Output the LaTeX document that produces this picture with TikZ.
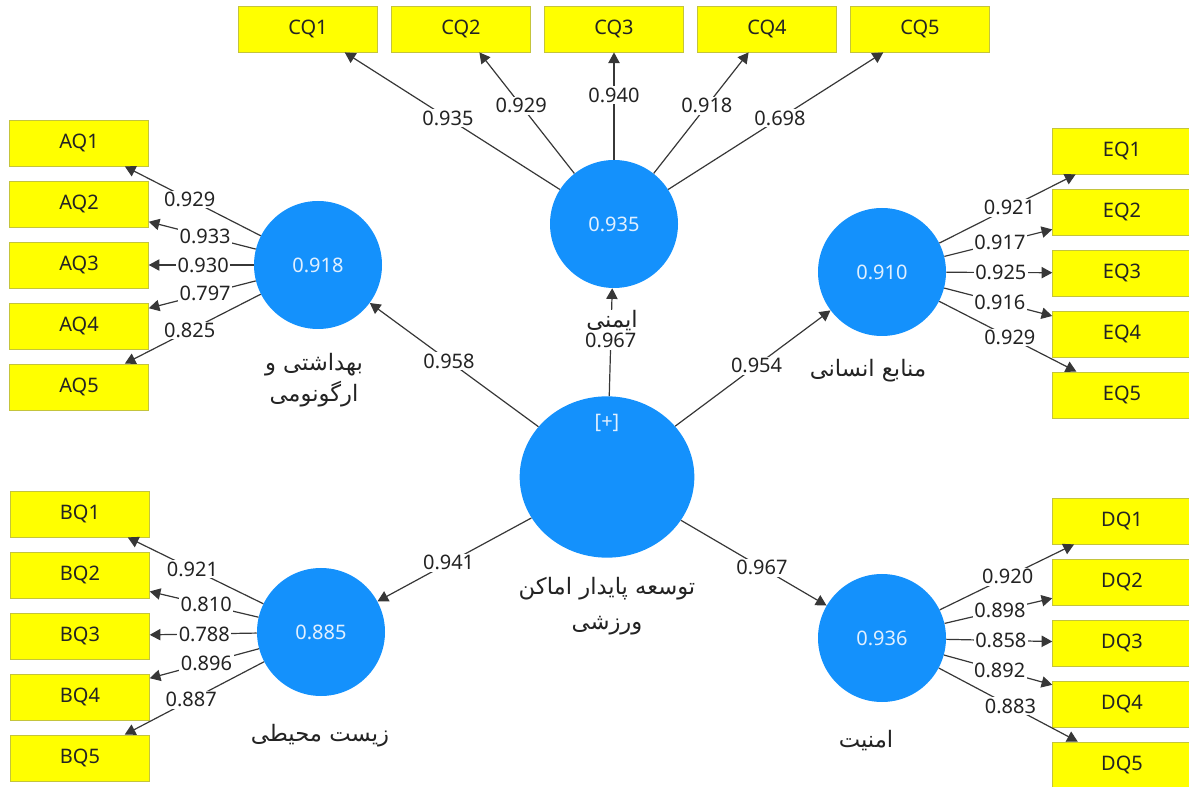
\documentclass[tikz,border=0pt]{standalone}
\usepackage{fontspec}
\setmainfont{Noto Sans}
\newfontfamily\fa[Script=Arabic]{DejaVu Sans}
\TeXXeTstate=1
\usetikzlibrary{arrows.meta,shapes.geometric}
\definecolor{lvblue}{RGB}{20,145,252}
\definecolor{indyel}{RGB}{255,255,0}
\definecolor{indbord}{RGB}{196,196,60}
\definecolor{lncol}{RGB}{55,55,55}
\definecolor{txcol}{RGB}{35,35,35}
\definecolor{lvtext}{RGB}{225,240,255}
\begin{document}
\begin{tikzpicture}[x=0.75pt,y=-0.75pt,
  lvar/.style={circle,fill=lvblue,minimum size=96pt,inner sep=0pt,text=lvtext,font=\fontsize{15}{18}\selectfont},
  cvar/.style={ellipse,fill=lvblue,minimum width=131pt,minimum height=121pt,inner sep=0pt},
  indbox/.style={rectangle,draw=indbord,fill=indyel,line width=0.6pt,minimum width=104pt,minimum height=34.5pt,inner sep=0pt,text=txcol,font=\fontsize{15}{18}\selectfont},
  arr/.style={draw=lncol,line width=0.9pt,-{Triangle[length=8pt,width=8.5pt]}},
  lbl/.style={fill=white,inner sep=1.2pt,text=txcol,font=\fontsize{15}{18}\selectfont},
  falbl/.style={fill=white,inner sep=1pt,text=txcol,font=\fa\fontsize{17}{23}\selectfont,align=center}
]
\useasboundingbox (0,0) rectangle (1189,787);

% latent variables
\node[lvar] (A) at (318,265) {0.918};
\node[lvar] (B) at (321,632) {0.885};
\node[lvar] (C) at (614,224) {0.935};
\node[lvar] (D) at (882,638) {0.936};
\node[lvar] (E) at (882,272) {0.910};
\node[cvar] (S) at (607,477) {};
\node[text=lvtext,font=\fontsize{15}{18}\selectfont] (plus) at (607,423) {[+]};

% indicators
\foreach \i/\y in {1/143,2/204,3/265,4/326,5/387} \node[indbox] (AQ\i) at (79,\y) {AQ\i};
\foreach \i/\y in {1/514,2/575,3/636,4/697,5/758} \node[indbox] (BQ\i) at (80,\y) {BQ\i};
\foreach \i/\x in {1/308,2/461,3/614,4/767,5/920} \node[indbox] (CQ\i) at (\x,29) {CQ\i};
\foreach \i/\y in {1/521,2/582,3/643,4/704,5/765} \node[indbox] (DQ\i) at (1122,\y) {DQ\i};
\foreach \i/\y in {1/151,2/212,3/273,4/334,5/395} \node[indbox] (EQ\i) at (1122,\y) {EQ\i};

% connectors
\foreach \t in {A,B,C,D,E} \draw[arr] (S) -- (\t);
\foreach \i in {1,...,5} {
  \draw[arr] (A) -- (AQ\i);
  \draw[arr] (B) -- (BQ\i);
  \draw[arr] (C) -- (CQ\i);
  \draw[arr] (D) -- (DQ\i);
  \draw[arr] (E) -- (EQ\i);
}

% labels on inner paths
\path (S) -- (A) node[lbl,pos=0.53] {0.958};
\path (S) -- (E) node[lbl,pos=0.524] {0.954};
\path (S) -- (B) node[lbl,pos=0.538] {0.941};
\path (S) -- (D) node[lbl,pos=0.556] {0.967};
\path (S) -- (C) node[lbl,pos=0.514] {0.967};

% outer loadings
\foreach \i/\v/\p in {1/0.929/0.523,2/0.933/0.473,3/0.930/0.481,4/0.797/0.473,5/0.825/0.523}
  \path (A) -- (AQ\i) node[lbl,pos=\p] {\v};
\foreach \i/\v/\p in {1/0.921/0.523,2/0.810/0.481,3/0.788/0.49,4/0.896/0.481,5/0.887/0.523}
  \path (B) -- (BQ\i) node[lbl,pos=\p] {\v};
\foreach \i/\v/\p in {1/0.935/0.52,2/0.929/0.56,3/0.940/0.6,4/0.918/0.56,5/0.698/0.52}
  \path (C) -- (CQ\i) node[lbl,pos=\p] {\v};
\foreach \i/\v/\p in {1/0.920/0.506,2/0.898/0.515,3/0.858/0.515,4/0.892/0.515,5/0.883/0.515}
  \path (D) -- (DQ\i) node[lbl,pos=\p] {\v};
\foreach \i/\v/\p in {1/0.921/0.515,2/0.917/0.515,3/0.925/0.515,4/0.916/0.515,5/0.929/0.515}
  \path (E) -- (EQ\i) node[lbl,pos=\p] {\v};

% names of latent variables
\node[falbl,fill=none] (Aname) at (314,380) {\beginR بهداشتی و\endR\\\beginR ارگونومی\endR};
\node[falbl,inner sep=0.5pt] (Cname) at (612,321) {\beginR ایمنی\endR};
\node[falbl] (Ename) at (868,371) {\beginR منابع انسانی\endR};
\node[falbl] (Bname) at (320,736) {\beginR زیست محیطی\endR};
\node[falbl] (Dname) at (866,741) {\beginR امنیت\endR};
\node[falbl,fill=none,font=\fa\fontsize{17}{26}\selectfont] (Sname) at (607,606) {\beginR توسعه پایدار اماکن\endR\\\beginR ورزشی\endR};
\end{tikzpicture}
\end{document}
